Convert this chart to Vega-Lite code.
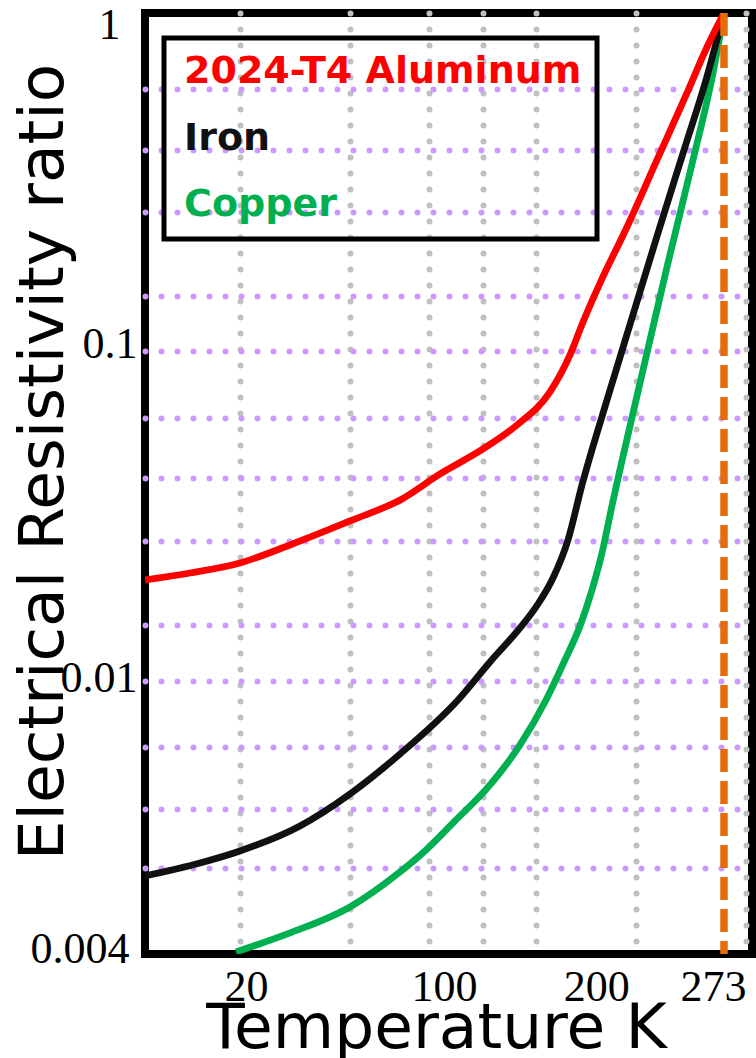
{
  "$schema": "https://vega.github.io/schema/vega-lite/v6.json",
  "width": 607,
  "height": 941,
  "autosize": {"type": "none"},
  "padding": {"left": 145, "top": 13, "right": 4, "bottom": 104},
  "background": "white",
  "config": {
    "view": {"stroke": "#000000", "strokeWidth": 8},
    "axis": {"domain": false, "ticks": false, "tickSize": 0},
    "legend": {"strokeWidth": 5}
  },
  "datasets": {
    "curves": [
      {"material": "Copper", "T": 17.91, "ratio": 0.001544},
      {"material": "Copper", "T": 46.14, "ratio": 0.00176},
      {"material": "Copper", "T": 77.5, "ratio": 0.002105},
      {"material": "Copper", "T": 103.64, "ratio": 0.00268},
      {"material": "Copper", "T": 117.23, "ratio": 0.003119},
      {"material": "Copper", "T": 131.87, "ratio": 0.003783},
      {"material": "Copper", "T": 150.68, "ratio": 0.004883},
      {"material": "Copper", "T": 166.37, "ratio": 0.006433},
      {"material": "Copper", "T": 179.96, "ratio": 0.008771},
      {"material": "Copper", "T": 189.89, "ratio": 0.01156},
      {"material": "Copper", "T": 197.73, "ratio": 0.01461},
      {"material": "Copper", "T": 204.0, "ratio": 0.01873},
      {"material": "Copper", "T": 209.23, "ratio": 0.02416},
      {"material": "Copper", "T": 214.46, "ratio": 0.0335},
      {"material": "Copper", "T": 229.09, "ratio": 0.07802},
      {"material": "Copper", "T": 243.2, "ratio": 0.1736},
      {"material": "Copper", "T": 256.8, "ratio": 0.363},
      {"material": "Copper", "T": 267.25, "ratio": 0.6612},
      {"material": "Copper", "T": 273, "ratio": 1},
      {"material": "Iron", "T": -29.66, "ratio": 0.002607},
      {"material": "Iron", "T": -0.91, "ratio": 0.002851},
      {"material": "Iron", "T": 20, "ratio": 0.003097},
      {"material": "Iron", "T": 51.36, "ratio": 0.00368},
      {"material": "Iron", "T": 77.5, "ratio": 0.004588},
      {"material": "Iron", "T": 103.64, "ratio": 0.006045},
      {"material": "Iron", "T": 133.96, "ratio": 0.008771},
      {"material": "Iron", "T": 150.68, "ratio": 0.0114},
      {"material": "Iron", "T": 166.37, "ratio": 0.01441},
      {"material": "Iron", "T": 175.78, "ratio": 0.017},
      {"material": "Iron", "T": 183.62, "ratio": 0.02034},
      {"material": "Iron", "T": 191.46, "ratio": 0.02644},
      {"material": "Iron", "T": 198.78, "ratio": 0.03863},
      {"material": "Iron", "T": 211.84, "ratio": 0.06939},
      {"material": "Iron", "T": 224.91, "ratio": 0.1221},
      {"material": "Iron", "T": 238.5, "ratio": 0.2194},
      {"material": "Iron", "T": 252.61, "ratio": 0.397},
      {"material": "Iron", "T": 263.59, "ratio": 0.6302},
      {"material": "Iron", "T": 273, "ratio": 1},
      {"material": "2024-T4 Aluminum", "T": -29.66, "ratio": 0.02006},
      {"material": "2024-T4 Aluminum", "T": -6.14, "ratio": 0.02105},
      {"material": "2024-T4 Aluminum", "T": 20, "ratio": 0.02256},
      {"material": "2024-T4 Aluminum", "T": 46.14, "ratio": 0.02554},
      {"material": "2024-T4 Aluminum", "T": 77.5, "ratio": 0.03013},
      {"material": "2024-T4 Aluminum", "T": 104.68, "ratio": 0.03507},
      {"material": "2024-T4 Aluminum", "T": 124.55, "ratio": 0.04166},
      {"material": "2024-T4 Aluminum", "T": 147.03, "ratio": 0.0495},
      {"material": "2024-T4 Aluminum", "T": 164.8, "ratio": 0.05841},
      {"material": "2024-T4 Aluminum", "T": 182.05, "ratio": 0.07333},
      {"material": "2024-T4 Aluminum", "T": 192.5, "ratio": 0.09463},
      {"material": "2024-T4 Aluminum", "T": 199.3, "ratio": 0.1188},
      {"material": "2024-T4 Aluminum", "T": 208.19, "ratio": 0.1554},
      {"material": "2024-T4 Aluminum", "T": 222.3, "ratio": 0.2287},
      {"material": "2024-T4 Aluminum", "T": 237.98, "ratio": 0.363},
      {"material": "2024-T4 Aluminum", "T": 253.66, "ratio": 0.5761},
      {"material": "2024-T4 Aluminum", "T": 264.12, "ratio": 0.791},
      {"material": "2024-T4 Aluminum", "T": 273, "ratio": 1}
    ],
    "ref": [{"T": 273}]
  },
  "layer": [
    {
      "data": {"name": "curves"},
      "mark": {"type": "line", "interpolate": "monotone", "clip": true, "strokeJoin": "round", "strokeWidth": 6.8},
      "encoding": {
        "x": {
          "field": "T",
          "type": "quantitative",
          "scale": {"domain": [-29.66, 287.64], "nice": false, "zero": false},
          "axis": {
            "values": [20, 77.5, 100, 118.64, 147.18, 174.73, 200, 227, 273, 284.5],
            "title": "Temperature K",
            "titleFont": "DejaVu Sans",
            "titleFontSize": 63,
            "titleFontWeight": "normal",
            "titleColor": "#000000",
            "titleX": 291,
            "titleY": 93,
            "titleAlign": "center",
            "titleBaseline": "alphabetic",
            "labelFont": "Liberation Serif",
            "labelFontSize": 44,
            "labelColor": "#000000",
            "labelBaseline": "alphabetic",
            "labelPadding": 46,
            "labelOverlap": false,
            "labelBound": false,
            "labelFlush": false,
            "labelExpr": "(datum.value == 20 || datum.value == 100 || datum.value == 200 || datum.value == 273) ? ('' + datum.value) : ''",
            "labelOffset": {"expr": "datum.value == 20 ? 6 : datum.value == 100 ? 51 : datum.value == 200 ? 12 : datum.value == 273 ? -11 : 0"},
            "grid": true,
            "gridColor": "#c0c0c0",
            "gridWidth": 6,
            "gridDash": [0, 16],
            "gridCap": "round",
            "gridOpacity": {"condition": {"test": "datum.value == 100 || datum.value == 200 || datum.value == 273", "value": 0}, "value": 1}
          }
        },
        "y": {
          "field": "ratio",
          "type": "quantitative",
          "scale": {"type": "log", "domain": [0.001522, 1], "nice": false},
          "axis": {
            "values": [1, 0.5923, 0.3889, 0.2536, 0.1421, 0.1, 0.09727, 0.0613, 0.04053, 0.02625, 0.01471, 0.01, 0.006343, 0.004138, 0.004, 0.002755],
            "title": "Electrical Resistivity ratio",
            "titleFont": "DejaVu Sans",
            "titleFontSize": 63,
            "titleFontWeight": "normal",
            "titleColor": "#000000",
            "titleX": -83,
            "titleY": 448.5,
            "titleAngle": -90,
            "titleAlign": "center",
            "titleBaseline": "alphabetic",
            "labelFont": "Liberation Serif",
            "labelFontSize": 44,
            "labelColor": "#000000",
            "labelOverlap": false,
            "labelBound": false,
            "labelFlush": false,
            "labelExpr": "datum.value == 1 ? '1' : datum.value == 0.1 ? '0.1' : datum.value == 0.01 ? '0.01' : datum.value == 0.004 ? '0.004' : ''",
            "labelOffset": {"expr": "datum.value == 1 ? 12 : datum.value == 0.004 ? 136 : -2"},
            "labelPadding": {"expr": "datum.value == 1 ? 25 : datum.value == 0.004 ? 16 : 8"},
            "grid": true,
            "gridColor": "#cc99ff",
            "gridWidth": 6,
            "gridDash": [0, 16],
            "gridCap": "round",
            "gridOpacity": {"condition": {"test": "datum.value == 1 || datum.value == 0.1 || datum.value == 0.004", "value": 0}, "value": 1}
          }
        },
        "color": {
          "field": "material",
          "type": "nominal",
          "scale": {"domain": ["2024-T4 Aluminum", "Iron", "Copper"], "range": ["#ff0000", "#111111", "#00b050"]},
          "legend": {
            "title": null,
            "orient": "none",
            "legendX": 19,
            "legendY": 25,
            "strokeColor": "#000000",
            "padding": 15,
            "symbolOpacity": 0,
            "symbolSize": 0,
            "symbolStrokeWidth": 0,
            "labelFont": "DejaVu Sans",
            "labelFontWeight": "bold",
            "labelFontSize": 38,
            "labelColor": {"expr": "datum.value == 'Iron' ? '#111111' : datum.value == 'Copper' ? '#00b050' : '#ff0000'"},
            "labelExpr": "datum.label + '\u2003'",
            "labelLimit": 1000,
            "labelOffset": -33,
            "rowPadding": 28.5
          }
        }
      }
    },
    {
      "data": {"name": "ref"},
      "mark": {"type": "rule", "color": "#e46c0a", "strokeWidth": 7.5, "strokeDash": [23, 9]},
      "encoding": {"x": {"field": "T", "type": "quantitative"}}
    }
  ]
}
